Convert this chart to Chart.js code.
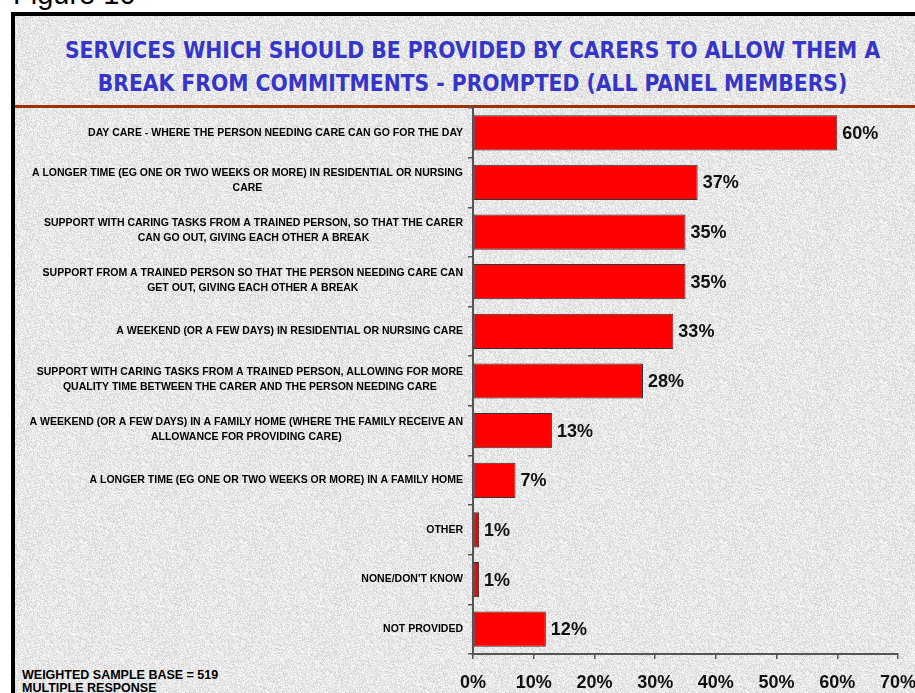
<!DOCTYPE html>
<html>
<head>
<meta charset="utf-8">
<script src="https://cdn.jsdelivr.net/npm/chart.js@4.4.1/dist/chart.umd.min.js"></script>
<style>
  html, body { margin: 0; padding: 0; background: #fff; }
  #page { position: relative; width: 915px; height: 693px; overflow: hidden; }
  #figLabel {
    position: absolute; left: 13px; top: -20px;
    font: 29px "Liberation Sans", Arial, sans-serif; line-height: 29px; color: #000;
  }
  #frame {
    position: absolute; left: 11px; top: 12px; width: 940px; height: 720px;
    border-left: 4px solid #000; border-top: 4px solid #000;
    background-color: #e6e6e6;
  }
  #rule {
    position: absolute; left: 15px; top: 105px; width: 900px; height: 3px;
    background: #993300;
  }
  #title {
    position: absolute; left: 15px; width: 915px; top: 34px;
    text-align: center; color: #3535c8;
    font: bold 22.6px "DejaVu Sans Condensed", "DejaVu Sans", sans-serif;
    line-height: 33px;
  }
  #base {
    position: absolute; left: 22px; top: 669px;
    font: bold 12.5px "Liberation Sans", Arial, sans-serif; line-height: 12.5px; color: #000;
  }
  #wrap { position: absolute; left: 0; top: 0; width: 915px; height: 693px; }
</style>
</head>
<body>
<div id="page">
  <div id="figLabel">Figure 10</div>
  <div id="frame"></div>
  <div id="title">SERVICES WHICH SHOULD BE PROVIDED BY CARERS TO ALLOW THEM A<br>BREAK FROM COMMITMENTS - PROMPTED (ALL PANEL MEMBERS)</div>
  <div id="rule"></div>
  <div id="base">WEIGHTED SAMPLE BASE = 519<br>MULTIPLE RESPONSE</div>
  <div id="wrap"><canvas id="chart"></canvas></div>
</div>
<script>
const categories = [
  ["DAY CARE - WHERE THE PERSON NEEDING CARE CAN GO FOR THE DAY"],
  ["A LONGER TIME (EG ONE OR TWO WEEKS OR MORE) IN RESIDENTIAL OR NURSING", "CARE"],
  ["SUPPORT WITH CARING TASKS FROM A TRAINED PERSON, SO THAT THE CARER", "CAN GO OUT, GIVING EACH OTHER A BREAK"],
  ["SUPPORT FROM A TRAINED PERSON SO THAT THE PERSON NEEDING CARE CAN", "GET OUT, GIVING EACH OTHER A BREAK"],
  ["A WEEKEND (OR A FEW DAYS) IN RESIDENTIAL OR NURSING CARE"],
  ["SUPPORT WITH CARING TASKS FROM A TRAINED PERSON, ALLOWING FOR MORE", "QUALITY TIME BETWEEN THE CARER AND THE PERSON NEEDING CARE"],
  ["A WEEKEND (OR A FEW DAYS) IN A FAMILY HOME (WHERE THE FAMILY RECEIVE AN", "ALLOWANCE FOR PROVIDING CARE)"],
  ["A LONGER TIME (EG ONE OR TWO WEEKS OR MORE) IN A FAMILY HOME"],
  ["OTHER"],
  ["NONE/DON'T KNOW"],
  ["NOT PROVIDED"]
];
const percentValues = [60, 37, 35, 35, 33, 28, 13, 7, 1, 1, 12];
const xTicks = [0, 10, 20, 30, 40, 50, 60, 70];

// speckled stone-like paper texture for the frame
(function () {
  const size = 160;
  const c = document.createElement("canvas");
  c.width = size; c.height = size;
  const g = c.getContext("2d");
  const img = g.createImageData(size, size);
  let seed = 1234567;
  const next = () => { seed = (seed * 1103515245 + 12345) & 0x7fffffff; return seed / 0x7fffffff; };
  for (let i = 0; i < size * size; i++) {
    const r = next();
    let v = 232 + Math.round((next() - 0.5) * 18);
    if (r < 0.18) v = 206 + Math.round(next() * 14);
    else if (r > 0.8) v = 244 + Math.round(next() * 8);
    img.data[i * 4] = v; img.data[i * 4 + 1] = v; img.data[i * 4 + 2] = v; img.data[i * 4 + 3] = 255;
  }
  g.putImageData(img, 0, 0);
  document.getElementById("frame").style.backgroundImage = "url(" + c.toDataURL() + ")";
})();

const labelFont = 'bold 10.5px "Liberation Sans", Arial, sans-serif';

// wrapped category text, block right-aligned to the axis, lines centred within the block
const categoryLabels = {
  id: "categoryLabels",
  afterDraw(chart) {
    const ctx = chart.ctx;
    const yScale = chart.scales.y;
    const right = yScale.right - 10;
    const lineH = 15;
    ctx.save();
    ctx.font = labelFont;
    ctx.fillStyle = "#000";
    ctx.textAlign = "center";
    ctx.textBaseline = "middle";
    categories.forEach((lines, i) => {
      const yc = yScale.getPixelForValue(i) - (lines.length > 1 ? 1.5 : 0);
      const w = Math.max(...lines.map((l) => ctx.measureText(l).width));
      const cx = right - w / 2;
      lines.forEach((l, k) => {
        ctx.fillText(l, cx, yc + (k - (lines.length - 1) / 2) * lineH);
      });
    });
    ctx.restore();
  }
};

const valueLabels = {
  id: "valueLabels",
  afterDatasetsDraw(chart) {
    const ctx = chart.ctx;
    const meta = chart.getDatasetMeta(0);
    ctx.save();
    ctx.font = 'bold 18px "Liberation Sans", Arial, sans-serif';
    ctx.fillStyle = "#111";
    ctx.textAlign = "left";
    ctx.textBaseline = "middle";
    meta.data.forEach((bar, i) => {
      ctx.fillText(percentValues[i] + "%", bar.x + 5, bar.y + 1);
    });
    ctx.restore();
  }
};

new Chart(document.getElementById("chart"), {
  type: "bar",
  data: {
    labels: categories.map((c) => c.join(" ")),
    datasets: [{
      data: percentValues,
      backgroundColor: "#ff0000",
      borderColor: "#333",
      borderWidth: 1,
      borderSkipped: false,
      barPercentage: 0.71,
      categoryPercentage: 1
    }]
  },
  options: {
    indexAxis: "y",
    responsive: true,
    maintainAspectRatio: false,
    animation: false,
    layout: { padding: { top: 108, right: 17, left: 0, bottom: 0 } },
    plugins: { legend: { display: false }, tooltip: { enabled: false } },
    scales: {
      x: {
        min: 0, max: 70,
        afterBuildTicks(scale) { scale.ticks = xTicks.map((v) => ({ value: v })); },
        afterFit(scale) { scale.height = 39; scale.paddingLeft = 0; scale.paddingRight = 0; },
        border: { display: true, color: "#555", width: 2 },
        grid: { display: true, drawOnChartArea: false, drawTicks: true, tickLength: 5, color: "#555", lineWidth: 1.5 },
        ticks: {
          color: "#111",
          padding: 13,
          font: { family: '"Liberation Sans", Arial, sans-serif', size: 18, weight: "bold" },
          callback: (v) => v + "%",
          maxRotation: 0, autoSkip: false
        }
      },
      y: {
        afterFit(scale) { scale.width = 473; },
        border: { display: true, color: "#555", width: 2 },
        grid: { display: true, offset: true, drawOnChartArea: false, drawTicks: true, tickLength: 5, color: "#555", lineWidth: 1.5 },
        ticks: { display: false }
      }
    }
  },
  plugins: [categoryLabels, valueLabels]
});
</script>
</body>
</html>
